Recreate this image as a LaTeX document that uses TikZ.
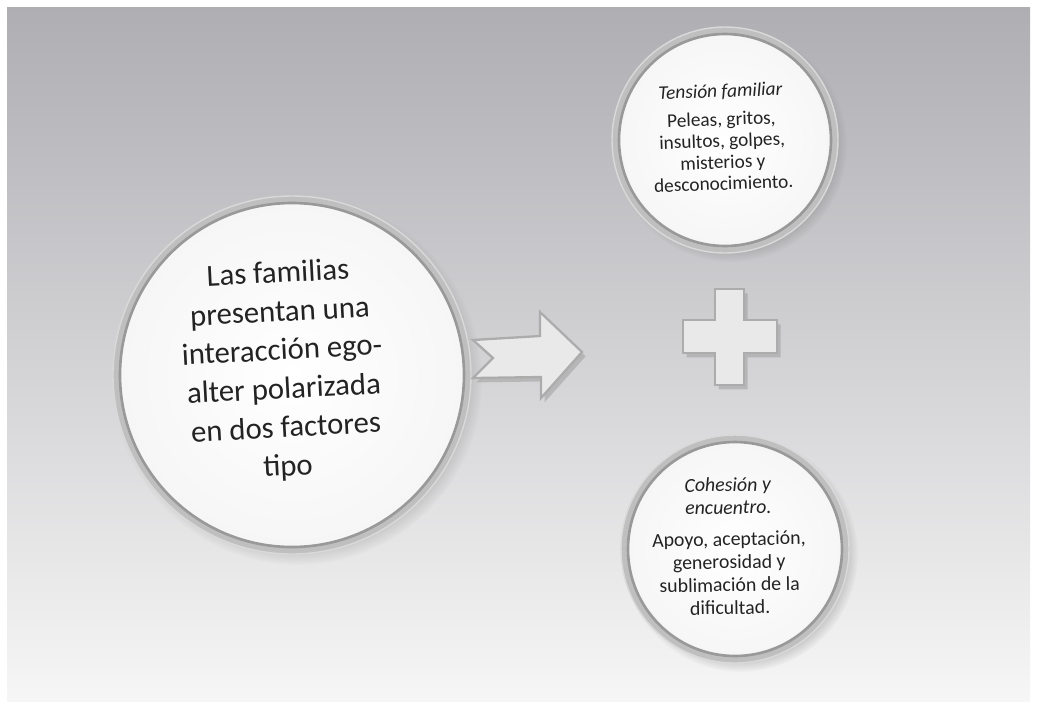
\documentclass[tikz,border=0pt]{standalone}
\usepackage{fontspec}
\setmainfont{Carlito}
\usetikzlibrary{shadows,fadings}
\definecolor{fondoA}{RGB}{174,174,179}
\definecolor{fondoB}{RGB}{246,246,246}
\definecolor{tinta}{RGB}{35,35,35}
\begin{document}
\begin{tikzpicture}[x=0.02cm,y=-0.02cm,line join=miter,text=tinta]
	\tikzset{aro/.style={circle,inner sep=0pt,fill=gray!50,draw=gray!30,line width=0.8pt,
			circular drop shadow={shadow xshift=3pt,shadow yshift=-3pt,shadow scale=1.03,opacity=0.5}},
		burbuja/.style={circle,inner sep=0pt,draw=gray!80,line width=1.5pt,inner color=white,outer color=gray!7},
		forma/.style={fill=gray!17,draw=gray!65,line width=1.3pt,
			drop shadow={shadow xshift=2pt,shadow yshift=-2.5pt,opacity=0.35}},
		texto/.style={align=center,inner sep=0pt}}
	\def\px{0.02cm}
	%--------- Fondo
	\fill[white] (0,0) rectangle (1037,708);
	\shade[top color=fondoA,bottom color=fondoB] (7,7) rectangle (1030,701);
	%--------- Circulos
	\node[aro,minimum size=358*\px] (familiasA) at (292,375) {};
	\node[burbuja,minimum size=344*\px] (familias) at (familiasA) {};
	\node[aro,minimum size=226*\px] (tensionA) at (725,140) {};
	\node[burbuja,minimum size=212*\px] (tension) at (tensionA) {};
	\node[aro,minimum size=228*\px] (cohesionA) at (735,549) {};
	\node[burbuja,minimum size=214*\px] (cohesion) at (cohesionA) {};
	%--------- Textos
	\node[texto,rotate=3,font=\fontsize{17.5}{22}\selectfont] (familiasT) at (283,371)
		{Las familias\\presentan una\\interacción ego-\\alter polarizada\\en dos factores\\tipo};
	\node[texto,rotate=2,font=\fontsize{11}{12.2}\selectfont] (tensionT) at (722,137)
		{\textit{Tensión familiar}\\[4pt]Peleas, gritos,\\insultos, golpes,\\misterios y\\desconocimiento.};
	\node[texto,rotate=1,font=\fontsize{11.3}{13}\selectfont] (cohesionT) at (729,546)
		{\textit{Cohesión y}\\\textit{encuentro.}\\[5pt]Apoyo, aceptación,\\generosidad y\\sublimación de la\\dificultad.};
	%--------- Flecha y signo mas
	\draw[forma] (473,340) -- (540,336) -- (540,312) -- (582,352) -- (541,398)
		-- (541,377) -- (473,378) -- (493,358) -- cycle;
	\draw[forma] (715,289) -- (744,289) -- (744,320) -- (777,320) -- (777,353) -- (744,353)
		-- (744,385) -- (715,385) -- (715,353) -- (683,353) -- (683,320) -- (715,320) -- cycle;
\end{tikzpicture}
\end{document}
